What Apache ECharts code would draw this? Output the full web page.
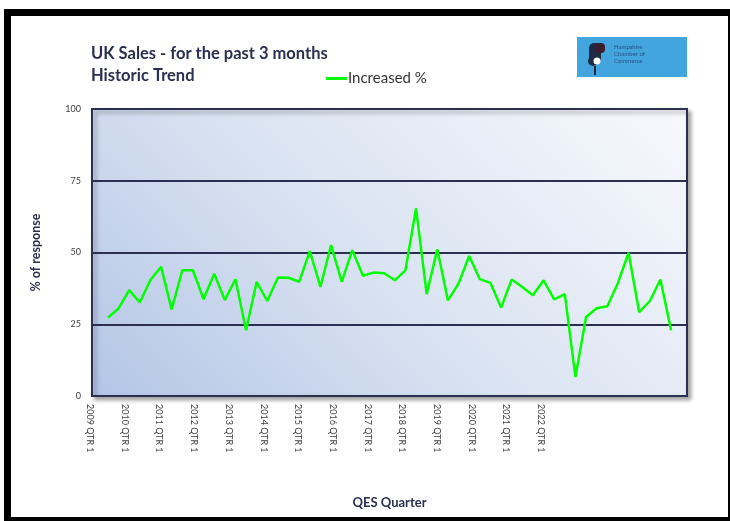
<!DOCTYPE html>
<html><head><meta charset="utf-8">
<script src="https://cdn.jsdelivr.net/npm/echarts@6/dist/echarts.min.js"></script>
<style>html,body{margin:0;padding:0;background:#fff}#c{width:730px;height:521px}</style>
</head><body><div id="c"></div>
<script>
const years = ['2009','2010','2011','2012','2013','2014','2015','2016','2017','2018','2019','2020','2021','2022'];
const quarterNames = ['QTR 1','QTR 2','QTR 3','QTR 4'];
const tickLabels = ['2009 QTR 1','2010 QTR 1','2011 QTR 1','2012 QTR 1','2013 QTR 1','2014 QTR 1','2015 QTR 1','2016 QTR 1','2017 QTR 1','2018 QTR 1','2019 QTR 1','2020 QTR 1','2021 QTR 1','2022 QTR 1'];
const seriesName = 'Increased %';
const increased = [null,
  27.3, 30.5, 36.9,
  32.6, 40.4, 45.0, 30.2,
  43.8, 43.8, 33.7, 42.6,
  33.4, 40.7, 22.9, 39.8,
  33.1, 41.3, 41.2, 39.8,
  50.5, 38.0, 52.6, 39.8,
  50.8, 41.9, 43.0, 42.8,
  40.3, 43.8, 65.4, 35.5,
  51.1, 33.3, 39.2, 48.8,
  40.7, 39.4, 30.8, 40.6,
  38.0, 35.1, 40.3, 33.7,
  35.5, 6.6, 27.5, 30.6,
  31.3, 39.4, 49.9, 29.2,
  33.1, 40.6, 22.9, null];
const categories = [];
years.forEach(y => quarterNames.forEach(q => categories.push(y + ' ' + q)));

const navy = '#2b2f50';
const chart = echarts.init(document.getElementById('c'), null, {renderer: 'canvas'});
chart.setOption({
  animation: false,
  backgroundColor: '#ffffff',
  textStyle: {fontFamily: 'Lato'},
  title: {
    text: 'UK Sales - for the past 3 months\nHistoric Trend',
    left: 86, top: 38,
    textStyle: {fontFamily: 'Lato', fontWeight: 'bold', fontSize: 16.5, lineHeight: 22, color: navy}
  },
  legend: {
    left: 321, top: 66,
    icon: 'rect', itemWidth: 21, itemHeight: 3, itemGap: 2,
    textStyle: {fontFamily: 'Lato', fontSize: 15, color: '#333333', padding: [0,0,0,-4]},
    data: [seriesName]
  },
  grid: [
    {left: 92, top: 109, width: 595, height: 287, show: true,
     backgroundColor: new echarts.graphic.LinearGradient(92, 396, 533, -45, [
       {offset: 0, color: '#b3c5e6'}, {offset: 0.45, color: '#d9e2f1'}, {offset: 1, color: '#f7f9fd'}], true),
     borderColor: navy, borderWidth: 2,
     shadowColor: 'rgba(0,0,0,0.35)', shadowBlur: 4, shadowOffsetX: 3, shadowOffsetY: 3},
    {left: 90, top: 395, width: 451, height: 1}
  ],
  xAxis: [
    {type: 'category', gridIndex: 0, data: categories, boundaryGap: true,
     axisLine: {show: false}, axisTick: {show: false}, axisLabel: {show: false}, splitLine: {show: false},
     name: 'QES Quarter', nameLocation: 'middle', nameGap: 100,
     nameTextStyle: {fontFamily: 'Lato', fontWeight: 'bold', fontSize: 13, color: navy}},
    {type: 'category', gridIndex: 1, data: tickLabels, boundaryGap: false, position: 'bottom',
     axisLine: {show: false}, axisTick: {show: false}, splitLine: {show: false},
     axisLabel: {rotate: -90, margin: 8, fontSize: 9, color: '#404040', fontFamily: 'Lato', interval: 0}}
  ],
  yAxis: [
    {type: 'value', gridIndex: 0, min: 0, max: 100, interval: 25,
     axisLine: {show: false}, axisTick: {show: false},
     axisLabel: {fontSize: 9, color: '#404040', margin: 11, fontFamily: 'Lato'},
     splitLine: {show: true, lineStyle: {color: navy, width: 2}},
     name: '% of response', nameLocation: 'middle', nameGap: 50, nameRotate: 90,
     nameTextStyle: {fontFamily: 'Lato', fontWeight: 'bold', fontSize: 12.5, color: navy}},
    {type: 'value', gridIndex: 1, show: false}
  ],
  series: [{
    name: seriesName, type: 'line', xAxisIndex: 0, yAxisIndex: 0,
    data: increased, showSymbol: false, symbol: 'none',
    lineStyle: {color: '#00ff00', width: 2.5}, itemStyle: {color: '#00ff00'},
    connectNulls: false
  }],
  graphic: [
    {type: 'rect', shape: {x: 7.5, y: 12.5, width: 724, height: 508},
     style: {fill: 'none', stroke: '#000000', lineWidth: 7}, silent: true, z: 100},
    {type: 'group', left: 577, top: 37, children: [
      {type: 'rect', shape: {x: 0, y: 0, width: 110, height: 40}, style: {fill: '#42a5de'}},
      {type: 'rect', shape: {x: 12, y: 6, width: 12, height: 20, r: 5}, style: {fill: '#1e2a44'}},
      {type: 'rect', shape: {x: 18, y: 6, width: 10, height: 10, r: 4}, style: {fill: '#3a1c2c'}},
      {type: 'circle', shape: {cx: 16, cy: 24, r: 5}, style: {fill: '#1e2a44'}},
      {type: 'circle', shape: {cx: 20, cy: 24, r: 3.5}, style: {fill: '#ffffff'}},
      {type: 'rect', shape: {x: 17, y: 29, width: 2, height: 9}, style: {fill: '#1e2a44'}},
      {type: 'text', style: {x: 37, y: 7, text: 'Hampshire\nChamber of\nCommerce', fontSize: 6, lineHeight: 7, fill: '#2a4f8a', fontFamily: 'Lato'}}
    ]}
  ]
});
</script></body></html>
